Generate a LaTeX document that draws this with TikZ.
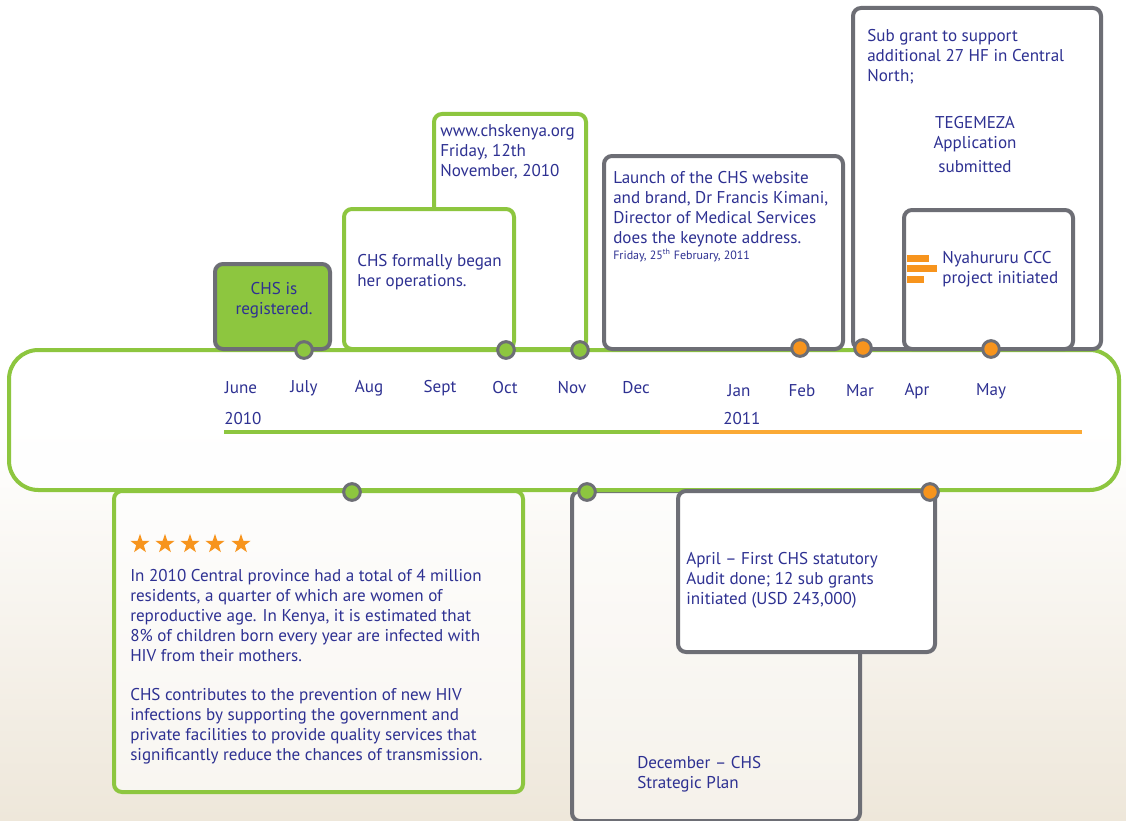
\documentclass[tikz,border=0pt]{standalone}
\usepackage{fontspec}
\setmainfont{PT Sans}
\usetikzlibrary{shapes.geometric}
\definecolor{cblue}{HTML}{2E3192}
\definecolor{cgreen}{HTML}{8DC63F}
\definecolor{cgrey}{HTML}{6D6E75}
\definecolor{corange}{HTML}{F7941D}
\definecolor{cline}{HTML}{FBAA35}
\definecolor{cbeige}{HTML}{EEE7DA}
\begin{document}
\begin{tikzpicture}[x=0.75pt,y=-0.75pt,
  gbox/.style={draw=cgreen,line width=3pt,rounded corners=6pt,fill=white},
  ybox/.style={draw=cgrey,line width=3pt,rounded corners=6pt,fill=white},
  txt/.style={text=cblue,inner sep=0pt,align=left,font=\fontsize{12.8}{15}\selectfont},
  mon/.style={text=cblue,inner sep=0pt,font=\fontsize{12.8}{14}\selectfont},
  gdot/.style={circle,fill=cgreen,draw=cgrey,line width=2.25pt,minimum size=12.5pt,inner sep=0pt},
  odot/.style={gdot,fill=corange},
  starn/.style={star,star points=5,star point ratio=2.5,fill=corange,inner sep=0pt,minimum size=15pt},
  bar/.style={fill=corange}
]
\useasboundingbox (0,0) rectangle (1126,820);
\clip (0,0) rectangle (1126,820);
% background
\fill[white] (0,0) rectangle (1126,820);
\fill[top color=white,bottom color=cbeige] (0,430) rectangle (1126,820);
% bottom boxes under band
\draw[ybox,fill=white,fill opacity=0.45] (572,491) rectangle (860,821);
\draw[gbox,fill opacity=0.6] (114,491) rectangle (523,792);
% band
\draw[draw=cgreen,line width=3pt,rounded corners=22pt,fill=white,fill opacity=0.85] (9,350) rectangle (1119,490);
% april box
\draw[ybox] (678,491) rectangle (935,652);
% top boxes
\draw[gbox] (434,114) rectangle (586,349);
\draw[gbox] (344,209) rectangle (514,349);
\draw[ybox,fill=cgreen] (215,264) rectangle (330,349);
\draw[ybox] (604,156) rectangle (843,349);
\draw[ybox] (853,8) rectangle (1101,349);
\draw[ybox] (904,210) rectangle (1073,349);
% year lines
\draw[cgreen,line width=3pt] (224,432) -- (660,432);
\draw[cline,line width=3pt] (660,432) -- (1082,432);
% bars icon
\fill[bar] (907,255) rectangle (929,262);
\fill[bar] (907,265) rectangle (937,272);
\fill[bar] (907,276) rectangle (924,283);
% dots
\node[gdot] (dJul) at (304,350) {};
\node[gdot] (dOct) at (506,350) {};
\node[gdot] (dNov) at (580,350) {};
\node[odot] (dFeb) at (800,348) {};
\node[odot] (dMar) at (863,348) {};
\node[odot] (dMay) at (991,349) {};
\node[gdot] (dB1) at (352,492) {};
\node[gdot] (dB2) at (587,492) {};
\node[odot] (dB3) at (930,492) {};
% stars
\foreach \i/\sx in {1/140,2/165,3/190,4/215,5/241}{
  \node[starn] (s\i) at (\sx,544) {};
}
% months
\node[mon] (mJun) at (241,388) {June};
\node[mon] (mJul) at (304,388) {July};
\node[mon] (mAug) at (369,388) {Aug};
\node[mon] (mSep) at (440,388) {Sept};
\node[mon] (mOct) at (505,388) {Oct};
\node[mon] (mNov) at (572,388) {Nov};
\node[mon] (mDec) at (636,388) {Dec};
\node[mon] (mJan) at (739,391) {Jan};
\node[mon] (mFeb) at (802,391) {Feb};
\node[mon] (mMar) at (860,391) {Mar};
\node[mon] (mApr) at (917,391) {Apr};
\node[mon] (mMay) at (991,391) {May};
\node[mon,anchor=west] (y10) at (224,419) {2010};
\node[mon,anchor=west] (y11) at (723,419) {2011};
% texts
\node[txt,align=center] (reg) at (274,300) {CHS is\\registered.};
\node[txt,anchor=west] (began) at (357,272) {CHS formally began\\her operations.};
\node[txt,anchor=west] (web) at (440,152) {www.chskenya.org\\Friday, 12th\\November, 2010};
\node[txt,anchor=west] (launch) at (613,209.5) {Launch of the CHS website\\and brand, Dr Francis Kimani,\\Director of Medical Services\\does the keynote address.};
\node[txt,anchor=west,font=\fontsize{9}{10}\selectfont] (ldate) at (613,255) {Friday, 25\textsuperscript{th} February, 2011};
\node[txt,anchor=west] (sub) at (867,57) {Sub grant to support\\additional 27 HF in Central\\North;};
\node[txt,align=center] (teg) at (975,145) {TEGEMEZA\\Application\\[3pt]submitted};
\node[txt,anchor=west] (nya) at (942,269) {Nyahururu CCC\\project initiated};
\node[txt,anchor=west] (p1) at (130,616) {In 2010 Central province had a total of 4 million\\residents, a quarter of which are women of\\reproductive age. In Kenya, it is estimated that\\8\% of children born every year are infected with\\HIV from their mothers.};
\node[txt,anchor=west] (p2) at (130,726) {CHS contributes to the prevention of new HIV\\infections by supporting the government and\\private facilities to provide quality services that\\significantly reduce the chances of transmission.};
\node[txt,anchor=west] (apr) at (686,580) {April – First CHS statutory\\Audit done; 12 sub grants\\initiated (USD 243,000)};
\node[txt,anchor=west] (dec) at (637,774) {December – CHS\\Strategic Plan};
\end{tikzpicture}
\end{document}
